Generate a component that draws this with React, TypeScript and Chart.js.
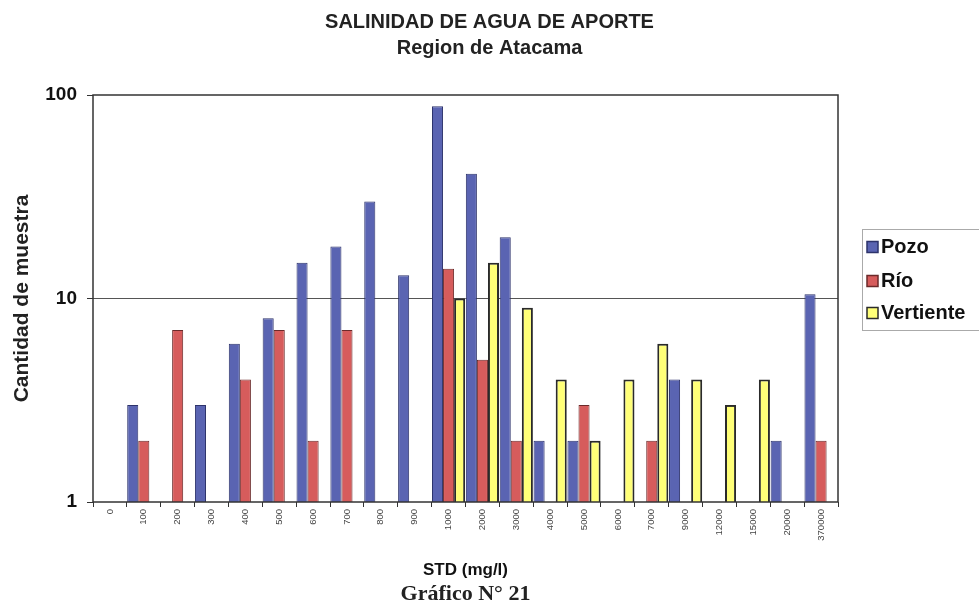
import React, { useEffect, useRef } from "react";
import { Chart, registerables } from "chart.js";

Chart.register(...registerables);

const categories = ["0", "100", "200", "300", "400", "500", "600", "700", "800", "900", "1000", "2000", "3000", "4000", "5000", "6000", "7000", "9000", "12000", "15000", "20000", "370000"];
const pozo = [null, 3, null, 3, 6, 8, 15, 18, 30, 13, 88, 41, 20, 2, 2, null, null, 4, null, null, 2, 10.5];
const rio = [null, 2, 7, null, 4, 7, 2, 7, null, null, 14, 5, 2, null, 3, null, 2, null, null, null, null, 2];
const vertiente = [null, null, null, null, null, null, null, null, null, null, 10, 15, 9, 4, 2, 4, 6, 4, 3, 4, null, null];
const yTicks = [1, 10, 100];

const SANS = "'Liberation Sans', Arial, sans-serif";
const SERIF = "'Liberation Serif', 'Times New Roman', serif";

const framePlugin = {
  id: "frame",
  afterDatasetsDraw(chart: any) {
    const { ctx, chartArea: a } = chart;
    ctx.save();
    ctx.strokeStyle = "#333";
    ctx.lineWidth = 1.5;
    ctx.strokeRect(a.left, a.top, a.right - a.left, a.bottom - a.top);
    ctx.restore();
  },
  afterDraw(chart: any) {
    const { ctx } = chart;
    ctx.save();
    ctx.strokeStyle = "#aaa";
    ctx.lineWidth = 1;
    ctx.strokeRect(862.5, 229.5, 130, 101);
    const ys = [247, 281, 313];
    ctx.font = `bold 20px ${SANS}`;
    ctx.textBaseline = "middle";
    ctx.textAlign = "left";
    chart.data.datasets.forEach((ds: any, i: number) => {
      const y = ys[i];
      ctx.fillStyle = ds.backgroundColor;
      ctx.fillRect(867, y - 5.5, 11, 11);
      ctx.strokeStyle = ds.borderColor;
      ctx.lineWidth = 1.5;
      ctx.strokeRect(867, y - 5.5, 11, 11);
      ctx.fillStyle = "#111";
      ctx.fillText(ds.label, 881, y);
    });
    ctx.restore();
  },
};

export default function App() {
  const ref = useRef<HTMLCanvasElement>(null);
  useEffect(() => {
    if (!ref.current) return;
    const chart = new Chart(ref.current, {
      type: "bar",
      data: {
        labels: categories,
        datasets: [
          { label: "Pozo", data: pozo as any, backgroundColor: "#5a64b2", borderColor: "#2d336b", borderWidth: 1, categoryPercentage: 0.98, barPercentage: 1 },
          { label: "Río", data: rio as any, backgroundColor: "#d65c5c", borderColor: "#6b2a2a", borderWidth: 1, categoryPercentage: 0.98, barPercentage: 1 },
          { label: "Vertiente", data: vertiente as any, backgroundColor: "#ffff78", borderColor: "#2a2a2a", borderWidth: 2, categoryPercentage: 0.98, barPercentage: 1 },
        ],
      },
      options: {
        responsive: false,
        animation: false,
        layout: { padding: 0 },
        plugins: {
          legend: { display: false },
          tooltip: { enabled: false },
          title: {
            display: true,
            text: ["SALINIDAD DE AGUA DE APORTE", "Region de Atacama"],
            color: "#222",
            font: { family: SANS, size: 20, weight: "bold", lineHeight: 26 / 20 },
            padding: { top: 9, bottom: 34 },
          },
          subtitle: {
            display: true,
            position: "bottom",
            fullSize: false,
            text: "Gráfico N° 21",
            color: "#222",
            font: { family: SERIF, size: 22, weight: "bold", lineHeight: 1 },
            padding: { top: 0, bottom: 1 },
          },
        },
        scales: {
          x: {
            grid: { display: true, drawOnChartArea: false, offset: true, color: "#333", tickLength: 5 },
            border: { display: false },
            ticks: { autoSkip: false, minRotation: 90, maxRotation: 90, padding: 2, color: "#444", font: { family: SANS, size: 9.5 } },
            title: { display: true, text: "STD (mg/l)", color: "#111", font: { family: SANS, size: 17, weight: "bold" }, padding: { top: 0, bottom: 2 } },
            afterFit: (s: any) => { s.height = 81; },
          },
          y: {
            type: "logarithmic",
            min: 1,
            max: 100,
            afterBuildTicks: (axis: any) => { axis.ticks = yTicks.map((v) => ({ value: v })); },
            grid: {
              color: (c: any) => (c.tick && c.tick.value === 10 ? "#555" : "rgba(0,0,0,0)"),
              tickColor: "#333",
              tickLength: 6,
            },
            border: { display: false },
            ticks: { padding: 10, color: "#111", font: { family: SANS, size: 19, weight: "bold" }, callback: (v: any) => String(v) },
            title: { display: true, text: "Cantidad de muestra", color: "#222", font: { family: SANS, size: 21, weight: "bold" }, padding: { top: 10, bottom: 0 } },
            afterFit: (s: any) => { s.width = 93; },
          },
          legendSpace: {
            type: "linear",
            position: "right",
            display: true,
            grid: { display: false },
            border: { display: false },
            ticks: { display: false },
            afterFit: (s: any) => { s.width = 141; },
          },
        },
      },
      plugins: [framePlugin],
    });
    return () => chart.destroy();
  }, []);
  return (
    <div style={{ position: "fixed", left: 0, top: 0, width: 979, height: 606, background: "#fff" }}>
      <canvas ref={ref} width={979} height={606} style={{ width: 979, height: 606, display: "block" }} />
    </div>
  );
}
